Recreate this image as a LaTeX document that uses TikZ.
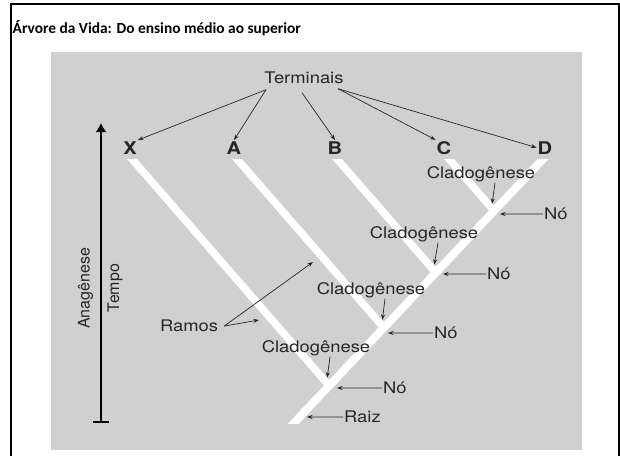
\documentclass[tikz,border=0pt]{standalone}
\usepackage{fontspec}
\usetikzlibrary{arrows.meta,positioning,calc}
\newfontfamily\titlefont{Carlito}
\newfontfamily\figfont[FakeStretch=1.15]{TeX Gyre Heros}
\newfontfamily\axisfont{TeX Gyre Heros}
\definecolor{panel}{RGB}{208,208,208}
\definecolor{ink}{RGB}{38,38,38}
\tikzset{
  lbl/.style={font=\figfont\fontsize{16}{18}\selectfont,text=ink,inner sep=1pt},
  taxon/.style={font=\figfont\bfseries\fontsize{17.5}{20}\selectfont,text=ink,inner sep=1pt,anchor=base},
  vlbl/.style={font=\axisfont\fontsize{16}{18}\selectfont,text=ink,inner sep=1pt,rotate=90},
  ptr/.style={draw=ink,line width=0.7pt,-{Stealth[length=5.5pt,width=4pt]}},
  branch/.style={draw=white,line width=7.5pt},
}

\begin{document}
\begin{tikzpicture}[x=1pt,y=-1pt]
    \useasboundingbox (0,0) rectangle (620,455);
    \draw[line width=2pt](11,460)--(11,3.5)--(618.5,3.5)--(618.5,460);
    \node[anchor=base west,inner sep=0pt,font=\titlefont\bfseries\fontsize{15.4}{18}\selectfont](title) at (12.5,33){Árvore da Vida: Do ensino médio ao superior};
    \fill[panel](51,52) rectangle (582,450);

    \coordinate(tX) at (132,159);
    \coordinate(tA) at (237,159);
    \coordinate(tB) at (337,159);
    \coordinate(tC) at (449,159);
    \coordinate(tD) at (543,159);
    \coordinate(root) at (294,423);
    \coordinate(jX) at (329.2,385.7);
    \coordinate(jA) at (383.9,327.8);
    \coordinate(jB) at (435.8,272.6);
    \coordinate(jC) at (494.1,210.8);
    \begin{scope}
        \clip(51,159) rectangle (582,423);
        \draw[branch,line width=8pt]($(tD)!1.1!(root)$)--($(root)!1.1!(tD)$);
        \draw[branch](jX)--($(jX)!1.1!(tX)$);
        \draw[branch](jA)--($(jA)!1.1!(tA)$);
        \draw[branch](jB)--($(jB)!1.1!(tB)$);
        \draw[branch](jC)--($(jC)!1.1!(tC)$);
    \end{scope}

    \coordinate(ax0) at (101,423);
    \coordinate(ax1) at (101,123);
    \draw[line width=2pt,{Bar[width=16pt]}-{Latex[length=9pt,width=11pt]}](ax0)--(ax1);
    \node[vlbl](anag) at (85.5,288.5){Anagênese};
    \node[vlbl](tempo) at (115,288){Tempo};

    \node[lbl,anchor=base](term) at (304,83.3){Terminais};
    \node[taxon](X) at (130,154){X};
    \node[taxon](A) at (234,154){A};
    \node[taxon](B) at (335,154){B};
    \node[taxon](C) at (444,154){C};
    \node[taxon](D) at (545,154){D};
    \draw[ptr]([shift={(-38,5)}]term.south)--(X.north east);
    \draw[ptr]([shift={(-38,5)}]term.south)--(A.north);
    \draw[ptr]([shift={(-2,8)}]term.south)--(B.north);
    \draw[ptr]([shift={(34,4)}]term.south)--(C.north west);
    \draw[ptr]([shift={(34,4)}]term.south)--(D.west);

    \node[lbl,anchor=base](cl1) at (481,178){Cladogênese};
    \node[lbl,anchor=base](cl2) at (424,238){Cladogênese};
    \node[lbl,anchor=base](cl3) at (371,294){Cladogênese};
    \node[lbl,anchor=base](cl4) at (316,352){Cladogênese};
    \draw[ptr]([xshift=14pt]cl1.south)--([shift={(-2,-7)}]jC);
    \draw[ptr]([xshift=14pt]cl2.south)--([shift={(-1.5,-8)}]jB);
    \draw[ptr]([xshift=14pt]cl3.south)--([shift={(-1.5,-8)}]jA);
    \draw[ptr]([xshift=14pt]cl4.south)--([shift={(-2,-8)}]jX);

    \coordinate(k1) at (500,214);
    \coordinate(k2) at (443,274);
    \coordinate(k3) at (388,333);
    \coordinate(k4) at (337,388);
    \coordinate(k5) at (307,417);
    \node[lbl,anchor=base west](no1) at (543,219.7){Nó};
    \node[lbl,anchor=base west](no2) at (486,279.7){Nó};
    \node[lbl,anchor=base west](no3) at (433,338.7){Nó};
    \node[lbl,anchor=base west](no4) at (382,393.7){Nó};
    \node[lbl,anchor=base west](raiz) at (343,422.7){Raiz};
    \draw[ptr](no1.west)--(k1);
    \draw[ptr](no2.west)--(k2);
    \draw[ptr](no3.west)--(k3);
    \draw[ptr](no4.west)--(k4);
    \draw[ptr](raiz.west)--(k5);

    \node[lbl,anchor=base](ramos) at (189,331.8){Ramos};
    \coordinate(rm1) at (259,320);
    \coordinate(rm2) at (313,262);
    \draw[ptr]([xshift=5pt]ramos.east)--(rm1);
    \draw[ptr]([xshift=5pt]ramos.east)--(rm2);
\end{tikzpicture}
\end{document}
